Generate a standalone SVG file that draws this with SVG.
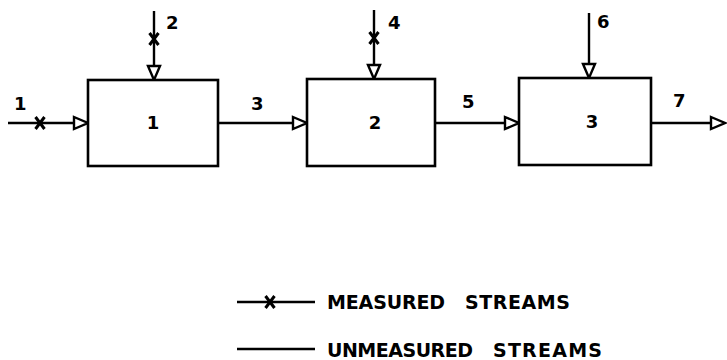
<svg xmlns="http://www.w3.org/2000/svg" width="727" height="360" viewBox="0 0 727 360">
<style>
.box{fill:#fff;stroke:#000;stroke-width:2.6}
.ln{fill:none;stroke:#000;stroke-width:2.4}
.ah{fill:#fff;stroke:#000;stroke-width:2.4;stroke-linejoin:miter}
.x{stroke:#000;stroke-width:3;fill:none}
.t{font-family:"DejaVu Sans","Liberation Sans",sans-serif;font-weight:bold;font-size:18px;fill:#000}
.lg{font-family:"DejaVu Sans","Liberation Sans",sans-serif;font-weight:bold;font-size:19px;fill:#000}
</style>
<defs>
<g id="xm"><path class="x" d="M-4.5,-6 L4.5,6 M4.5,-6 L-4.5,6"/></g>
<path id="ar" class="ah" d="M-14,-6 L0,0 L-14,6 Z"/>
<path id="ad" class="ah" d="M-6,-14 L0,0 L6,-14 Z"/>
</defs>
<g id="connectors">
<g id="s1"><path class="ln" d="M8,123 H74"/><use href="#xm" x="40" y="123"/><use href="#ar" x="88" y="123"/><text class="t" x="14" y="110">1</text></g>
<g id="s2"><path class="ln" d="M154,11 V66"/><use href="#xm" x="154" y="39"/><use href="#ad" x="154" y="80"/><text class="t" x="166" y="29">2</text></g>
<g id="s3"><path class="ln" d="M218,123 H293"/><use href="#ar" x="307" y="123"/><text class="t" x="251" y="110">3</text></g>
<g id="s4"><path class="ln" d="M374,10 V65"/><use href="#xm" x="374" y="38"/><use href="#ad" x="374" y="79"/><text class="t" x="388" y="29">4</text></g>
<g id="s5"><path class="ln" d="M435,123 H505"/><use href="#ar" x="519" y="123"/><text class="t" x="462" y="108">5</text></g>
<g id="s6"><path class="ln" d="M589,13 V64"/><use href="#ad" x="589" y="78"/><text class="t" x="597" y="28">6</text></g>
<g id="s7"><path class="ln" d="M651,123 H711"/><use href="#ar" x="725" y="123"/><text class="t" x="673" y="107">7</text></g>
</g>
<g id="n1"><rect class="box" x="88" y="80" width="130" height="86"/><text class="t" x="153" y="129" text-anchor="middle">1</text></g>
<g id="n2"><rect class="box" x="307" y="79" width="128" height="87"/><text class="t" x="375" y="129" text-anchor="middle">2</text></g>
<g id="n3"><rect class="box" x="519" y="78" width="132" height="87"/><text class="t" x="592" y="128" text-anchor="middle">3</text></g>
<g id="legend">
<path class="ln" d="M237,302 H315"/><use href="#xm" x="270" y="302"/>
<text class="lg" y="309"><tspan x="327" textLength="118" lengthAdjust="spacing">MEASURED</tspan> <tspan x="465" textLength="105" lengthAdjust="spacing">STREAMS</tspan></text>
<path class="ln" d="M237,349 H315"/>
<text class="lg" y="357"><tspan x="327" textLength="146" lengthAdjust="spacing">UNMEASURED</tspan> <tspan x="493" textLength="109" lengthAdjust="spacing">STREAMS</tspan></text>
</g>
</svg>
